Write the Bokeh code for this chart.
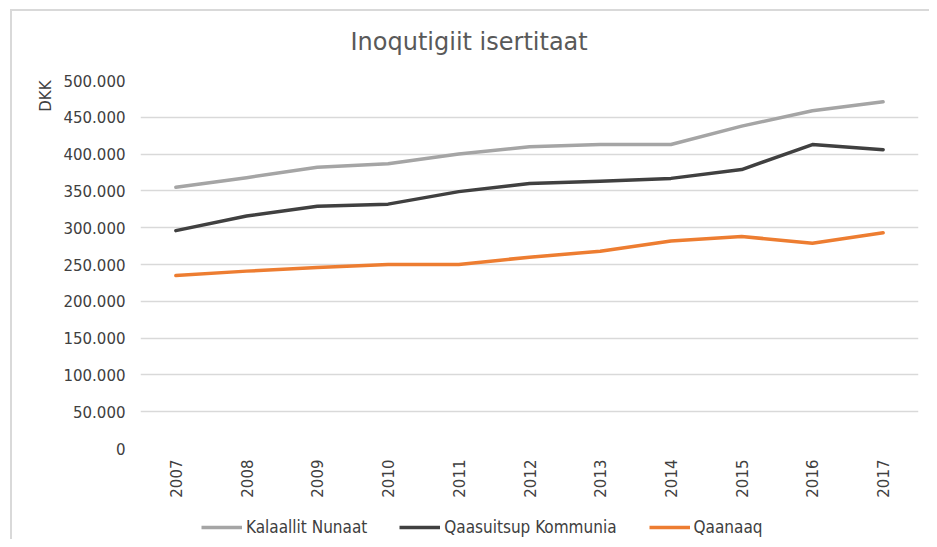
import math
from bokeh.plotting import figure
from bokeh.layouts import column
from bokeh.models import Range1d, FixedTicker, Legend, LegendItem, Title
from bokeh.embed import file_html
from bokeh.resources import INLINE

years = [2007, 2008, 2009, 2010, 2011, 2012, 2013, 2014, 2015, 2016, 2017]
kalaallit_nunaat = [355000, 368000, 382000, 387000, 400000, 410000, 413000, 413000, 438000, 459000, 471000]
qaasuitsup_kommunia = [296000, 316000, 329000, 332000, 349000, 360000, 363000, 367000, 379000, 413000, 406000]
qaanaaq = [235000, 241000, 246000, 250000, 250000, 260000, 268000, 282000, 288000, 279000, 293000]

y_ticks = [0, 50000, 100000, 150000, 200000, 250000, 300000, 350000, 400000, 450000, 500000]
y_tick_labels = ["0", "50.000", "100.000", "150.000", "200.000", "250.000",
                 "300.000", "350.000", "400.000", "450.000", "500.000"]
series_names = ["Kalaallit Nunaat", "Qaasuitsup Kommunia", "Qaanaaq"]
series_colors = ["#A5A5A5", "#404040", "#ED7D31"]
series_values = [kalaallit_nunaat, qaasuitsup_kommunia, qaanaaq]
title_text = "Inoqutigiit isertitaat"
y_label = "DKK"

W = 929
p = figure(width=W, height=501, output_backend="svg", toolbar_location=None,
           x_range=Range1d(2006.5, 2017.5), y_range=Range1d(0, 500000),
           min_border_left=140, min_border_right=11, min_border_top=79,
           min_border_bottom=53)
p.border_fill_color = None
p.background_fill_color = "white"
p.outline_line_color = None

p.xgrid.grid_line_color = None
p.ygrid.grid_line_color = "#d9d9d9"
p.ygrid.grid_line_width = 1.3

p.yaxis.ticker = FixedTicker(ticks=y_ticks)
p.yaxis.major_label_overrides = {t: l for t, l in zip(y_ticks, y_tick_labels)}
p.xaxis.ticker = FixedTicker(ticks=years)
p.xaxis.major_label_overrides = {y: str(y) for y in years}
p.xaxis.major_label_orientation = math.pi / 2

for ax in (p.xaxis, p.yaxis):
    ax.axis_line_color = None
    ax.major_tick_line_color = None
    ax.minor_tick_line_color = None
    ax.major_tick_out = 0
    ax.major_tick_in = 0
    ax.major_label_text_font = "DejaVu Sans"
    ax.major_label_text_font_size = "15px"
    ax.major_label_text_color = "#404040"
p.yaxis.major_label_standoff = 15
p.xaxis.major_label_standoff = 11

for vals, col in zip(series_values, series_colors):
    p.line(years, vals, line_color=col, line_width=3.5, line_cap="round", line_join="round")

title = Title(text=title_text, align="left", offset=210, standoff=50,
              text_font="DejaVu Sans", text_font_size="24px",
              text_font_style="normal", text_color="#595959")
p.add_layout(title, "above")

ylab = Title(text=y_label, align="right", offset=0, standoff=12,
             text_font="DejaVu Sans", text_font_size="15px",
             text_font_style="normal", text_color="#404040")
p.add_layout(ylab, "left")

# legend strip below the chart (its lines lie outside its visible range)
lg = figure(width=W, height=38, output_backend="svg", toolbar_location=None,
            x_range=Range1d(0, 1), y_range=Range1d(0, 1),
            x_axis_location=None, y_axis_location=None, min_border=0)
lg.border_fill_color = None
lg.background_fill_color = None
lg.outline_line_color = None
lg.grid.grid_line_color = None
items = []
for name, vals, col in zip(series_names, series_values, series_colors):
    r = lg.line(years, vals, line_color=col, line_width=3.5)
    items.append(LegendItem(label=name, renderers=[r]))
legend = Legend(items=items, orientation="horizontal", location=(61, 2),
                glyph_width=41, glyph_height=18, label_standoff=4, spacing=32,
                padding=0, margin=0, border_line_color=None, background_fill_alpha=0,
                label_text_font="DejaVu Sans Condensed", label_text_font_size="17px",
                label_text_color="#404040")
lg.add_layout(legend, "center")

layout = column(p, lg, spacing=0)
layout.styles = {
    "background-color": "white",
    "background-image": "linear-gradient(#d9d9d9, #d9d9d9), linear-gradient(#d9d9d9, #d9d9d9)",
    "background-size": "2px 100%, 100% 2px",
    "background-position": "10px 9px, 10px 9px",
    "background-repeat": "no-repeat",
}

open("out.html", "w").write(file_html(layout, INLINE))
